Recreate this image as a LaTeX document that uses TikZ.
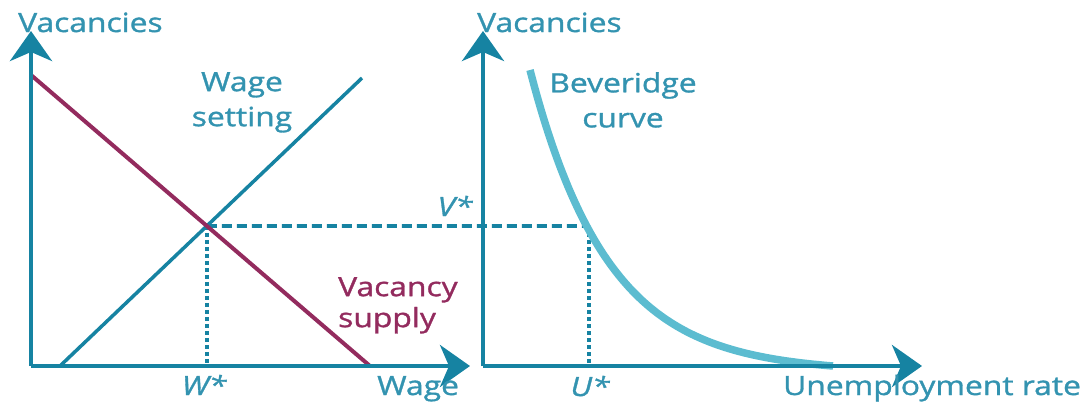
\documentclass[tikz,border=0pt]{standalone}
\usepackage{fontspec}
\setmainfont{Open Sans}[FakeStretch=1.2,FakeBold=1.2]
\usetikzlibrary{arrows.meta}
\definecolor{axisteal}{HTML}{1683A2}
\definecolor{textteal}{HTML}{3393B0}
\definecolor{bevblue}{HTML}{5CBCD0}
\definecolor{vacmaroon}{HTML}{932B5E}
\begin{document}
\begin{tikzpicture}[x=1pt,y=-1pt,
  axis/.style={draw=axisteal,line width=4.5pt,-{Stealth[length=30pt,width=42pt,inset=9pt]}},
  lbl/.style={text=textteal,font=\fontsize{26.5}{35}\selectfont,inner sep=0pt},
  mlbl/.style={text=vacmaroon,font=\fontsize{26.5}{31}\selectfont,inner sep=0pt},
  ilbl/.style={text=textteal,font=\fontsize{26.5}{35}\selectfont\itshape,inner sep=0pt},
  wageline/.style={draw=axisteal,line width=3.5pt},
  vacline/.style={draw=vacmaroon,line width=4pt},
  bevcurve/.style={draw=bevblue,line width=7.5pt},
  dashedguide/.style={draw=axisteal,line width=3.8pt,dash pattern=on 10pt off 5pt},
  dottedguide/.style={draw=axisteal,line width=4pt,dash pattern=on 4pt off 3pt}
]
\useasboundingbox (0,0) rectangle (1091,405);
% left panel points
\coordinate (O1) at (31,366);
\coordinate (Y1) at (31,31);
\coordinate (X1) at (470,366);
\coordinate (ws1) at (60,366);
\coordinate (ws2) at (362,78);
\coordinate (vs1) at (31,75);
\coordinate (vs2) at (370,366);
\coordinate (E) at (intersection of ws1--ws2 and vs1--vs2);
\coordinate (Wfoot) at (E |- O1);
% right panel points
\coordinate (O2) at (483,366);
\coordinate (Y2) at (483,31);
\coordinate (X2) at (922,366);
\coordinate (B) at (588.8,226);
\coordinate (Ufoot) at (B |- O2);
% guides
\draw[dashedguide] (E) -- (B);
\draw[dottedguide] (E) -- (Wfoot);
\draw[dottedguide] (B) -- (Ufoot);
% curves
\draw[wageline] (ws1) -- (ws2);
\draw[vacline] (vs1) -- (vs2);
\draw[bevcurve] plot[domain=530:833,samples=80,smooth] (\x,{366-296*(exp(-(\x-530)/78)-0.0205)/0.9795});
% axes
\draw[axis] (O1) -- (Y1);
\draw[axis] (O1) -- (X1);
\draw[axis] (O2) -- (Y2);
\draw[axis] (O2) -- (X2);
% labels
\node[lbl,anchor=base west] (vac1) at (18,32) {Vacancies};
\node[lbl,anchor=base west] (vac2) at (477,32) {Vacancies};
\node[lbl,anchor=north,align=center] (wsl) at (242,72) {Wage\\setting};
\node[mlbl,anchor=north west,align=left] (vsl) at (338,277) {Vacancy\\supply};
\node[lbl,anchor=north,align=center] (bcl) at (623,72) {Beveridge\\curve};
\node[ilbl,anchor=base] (vstar) at (455,216) {V*};
\node[ilbl,anchor=base] (wstar) at (204,395) {W*};
\node[lbl,anchor=base west] (wagel) at (377,395) {Wage};
\node[ilbl,anchor=base] (ustar) at (590,396) {U*};
\node[lbl,anchor=base west] (unl) at (783,395) {Unemployment rate};
\end{tikzpicture}
\end{document}
